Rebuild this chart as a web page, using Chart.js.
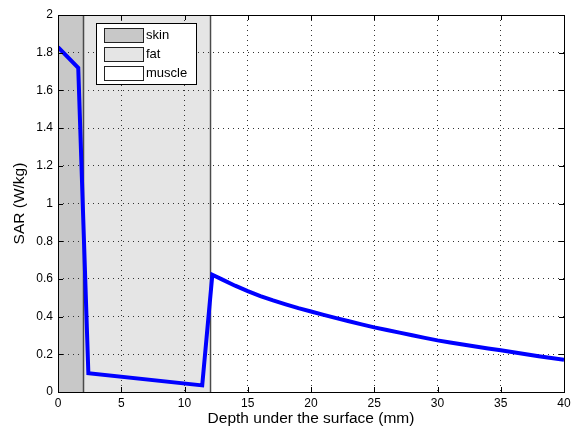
<!DOCTYPE html>
<html>
<head>
<meta charset="utf-8">
<script src="https://cdn.jsdelivr.net/npm/chart.js@4/dist/chart.umd.min.js"></script>
<style>
html,body{margin:0;padding:0;background:#fff;}
#wrap{width:572px;height:429px;}
</style>
</head>
<body>
<div id="wrap"><canvas id="c" width="572" height="429"></canvas></div>
<script>
// Data
const depthMm = [0, 1.6, 2.4, 11.4, 12.2, 13, 14, 15, 16, 17, 18, 19, 20, 21, 22, 23, 24, 25, 26, 27, 28, 29, 30, 31, 32, 33, 34, 35, 36, 37, 38, 39, 40];
const sarWkg  = [1.83, 1.72, 0.10, 0.035, 0.622, 0.596, 0.564, 0.535, 0.509, 0.486, 0.465, 0.445, 0.427, 0.409, 0.392, 0.375, 0.359, 0.343, 0.329, 0.315, 0.301, 0.287, 0.274, 0.263, 0.252, 0.241, 0.231, 0.221, 0.211, 0.2, 0.19, 0.18, 0.171];
const layerNames = ['skin', 'fat', 'muscle'];
const layerStart = [0, 2, 12];
const layerEnd   = [2, 12, 40];
const layerColors = ['#c8c8c8', '#e5e5e5', '#ffffff'];
const xTicks = [0, 5, 10, 15, 20, 25, 30, 35, 40];
const yTicks = [0, 0.2, 0.4, 0.6, 0.8, 1, 1.2, 1.4, 1.6, 1.8, 2];

const FONT = 'Liberation Sans, Arial, Helvetica, sans-serif';

const bandPlugin = {
  id: 'bands',
  beforeDraw(chart) {
    const {ctx, chartArea: a, scales: {x, y}} = chart;
    ctx.save();
    ctx.fillStyle = '#fff';
    ctx.fillRect(0, 0, chart.width, chart.height);
    for (let i = 0; i < layerNames.length; i++) {
      const x0 = x.getPixelForValue(layerStart[i]);
      const x1 = x.getPixelForValue(layerEnd[i]);
      ctx.fillStyle = layerColors[i];
      ctx.fillRect(x0, a.top, x1 - x0, a.bottom - a.top);
    }
    ctx.restore();
  },
  beforeDatasetsDraw(chart) {
    const {ctx, chartArea: a, scales: {x}} = chart;
    ctx.save();
    ctx.strokeStyle = '#4a4a4a';
    ctx.lineWidth = 1.5;
    for (let i = 1; i < layerNames.length; i++) {
      const px = Math.round(x.getPixelForValue(layerStart[i])) + 0.5;
      ctx.beginPath();
      ctx.moveTo(px, a.top);
      ctx.lineTo(px, a.bottom);
      ctx.stroke();
    }
    ctx.restore();
  },
  afterDraw(chart) {
    const {ctx, chartArea: a, scales: {x, y}} = chart;
    ctx.save();
    // box
    ctx.strokeStyle = '#000';
    ctx.lineWidth = 1;
    ctx.strokeRect(Math.round(a.left) + 0.5, Math.round(a.top) + 0.5, Math.round(a.right - a.left), Math.round(a.bottom - a.top));
    // inward ticks
    ctx.beginPath();
    xTicks.forEach(v => {
      const px = Math.round(x.getPixelForValue(v)) + 0.5;
      ctx.moveTo(px, a.bottom); ctx.lineTo(px, a.bottom - 5);
      ctx.moveTo(px, a.top); ctx.lineTo(px, a.top + 5);
    });
    yTicks.forEach(v => {
      const py = Math.round(y.getPixelForValue(v)) + 0.5;
      ctx.moveTo(a.left, py); ctx.lineTo(a.left + 5, py);
      ctx.moveTo(a.right, py); ctx.lineTo(a.right - 5, py);
    });
    ctx.stroke();
    // legend
    const lx = Math.round(a.left) + 38, ly = Math.round(a.top) + 8, lw = 100, lh = 61;
    ctx.fillStyle = '#fff';
    ctx.fillRect(lx, ly, lw, lh);
    ctx.lineWidth = 1;
    ctx.strokeStyle = '#000';
    ctx.strokeRect(lx + 0.5, ly + 0.5, lw, lh);
    ctx.font = '13px ' + FONT;
    ctx.textBaseline = 'middle';
    ctx.textAlign = 'left';
    for (let i = 0; i < layerNames.length; i++) {
      const cy = ly + 12 + i * 19;
      ctx.fillStyle = layerColors[i];
      ctx.fillRect(lx + 8, cy - 7, 39, 14);
      ctx.strokeStyle = '#222';
      ctx.strokeRect(lx + 8.5, cy - 6.5, 39, 14);
      ctx.fillStyle = '#000';
      ctx.fillText(layerNames[i], lx + 50, cy);
    }
    ctx.restore();
  }
};

new Chart(document.getElementById('c'), {
  type: 'line',
  data: {
    datasets: [{
      data: depthMm.map((d, i) => ({x: d, y: sarWkg[i]})),
      borderColor: '#0000ff',
      borderWidth: 4,
      pointRadius: 0,
      tension: 0,
      fill: false,
      borderJoinStyle: 'miter'
    }]
  },
  options: {
    responsive: false,
    animation: false,
    devicePixelRatio: 1,
    layout: {padding: {left: 0, right: 8, top: 15, bottom: 0}},
    plugins: {legend: {display: false}, tooltip: {enabled: false}},
    scales: {
      x: {
        type: 'linear',
        min: 0, max: 40,
        afterBuildTicks: s => { s.ticks = xTicks.map(v => ({value: v})); },
        afterFit: s => { s.height = 37; s.paddingLeft = 0; s.paddingRight = 0; },
        grid: {color: '#333', lineWidth: 1, drawTicks: false},
        border: {display: false, dash: [1, 4]},
        ticks: {color: '#000', font: {size: 12, family: FONT}, padding: 4, maxRotation: 0},
        title: {display: true, text: 'Depth under the surface (mm)', color: '#000', font: {size: 15.5, family: FONT}, padding: {top: 0, bottom: 1}}
      },
      y: {
        type: 'linear',
        min: 0, max: 2,
        afterBuildTicks: s => { s.ticks = yTicks.map(v => ({value: v})); },
        afterFit: s => { s.width = 58; s.paddingTop = 0; s.paddingBottom = 0; },
        grid: {color: '#333', lineWidth: 1, drawTicks: false},
        border: {display: false, dash: [1, 4]},
        ticks: {color: '#000', font: {size: 12, family: FONT}, padding: 5, callback: v => String(v)},
        title: {display: true, text: 'SAR (W/kg)', color: '#000', font: {size: 15.5, family: FONT}, padding: {top: 10, bottom: 0}}
      }
    }
  },
  plugins: [bandPlugin]
});
</script>
</body>
</html>
